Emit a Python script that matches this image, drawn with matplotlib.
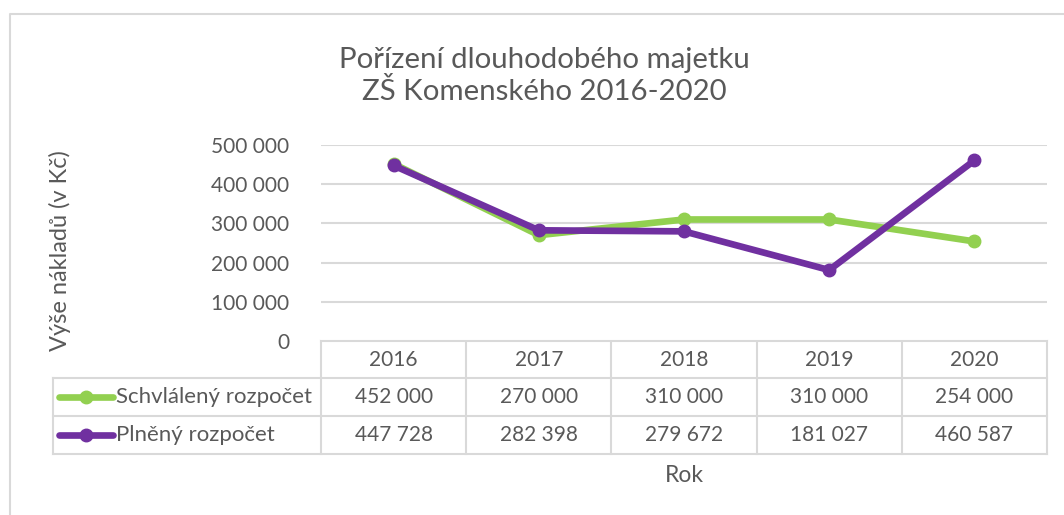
import matplotlib.pyplot as plt
from matplotlib.lines import Line2D
from matplotlib.ticker import FuncFormatter

years = ["2016", "2017", "2018", "2019", "2020"]
schvaleny = [452000, 270000, 310000, 310000, 254000]
plneny = [447728, 282398, 279672, 181027, 460587]
series_names = ["Schvlálený rozpočet", "Plněný rozpočet"]
series_colors = ["#92D050", "#7030A0"]

W, H = 1064, 515
TEXT = "#595959"
GRID = "#d9d9d9"
FONT = "Lato"

plt.rcParams["font.family"] = [FONT, "DejaVu Sans"]


def fmt(v):
    return f"{int(v):,}".replace(",", " ")


fig = plt.figure(figsize=(W / 100, H / 100), dpi=100)

# plot area in pixels
px_left, px_right = 321, 1047
px_top, px_bottom = 145, 341
ax = fig.add_axes([px_left / W, 1 - px_bottom / H,
                   (px_right - px_left) / W, (px_bottom - px_top) / H])

xs = list(range(len(years)))
for vals, col in zip([schvaleny, plneny], series_colors):
    ax.plot(xs, vals, color=col, linewidth=4.8, marker="o", markersize=9,
            solid_capstyle="round", zorder=3)

ax.set_xlim(-0.5, len(years) - 0.5)
ax.set_ylim(0, 500000)
ax.set_yticks(range(0, 500001, 100000))
ax.yaxis.set_major_formatter(FuncFormatter(lambda v, p: fmt(v)))
ax.set_xticks([])
ax.tick_params(axis="y", length=0, pad=23, labelsize=15, labelcolor=TEXT)
ax.grid(axis="y", color=GRID, linewidth=1.5)
ax.set_axisbelow(True)
for s in ax.spines.values():
    s.set_visible(False)

# overlay in pixel coords for table, labels and border
ov = fig.add_axes([0, 0, 1, 1], zorder=-1)
ov.set_xlim(0, W)
ov.set_ylim(H, 0)
ov.axis("off")
ov.patch.set_alpha(0)

# outer chart border
ov.plot([10, 10, W], [H, 14, 14], color=GRID, linewidth=1.5)

# data table
col_w = (px_right - px_left) / len(years)
edges = [px_left + i * col_w for i in range(len(years) + 1)]
leg_left = 53
row_y = [341, 378, 416, 454]
tl = dict(color=GRID, linewidth=1.5)
ov.plot([px_left, px_right], [row_y[0]] * 2, **tl)
for y in row_y[1:]:
    ov.plot([leg_left, px_right], [y, y], **tl)
for x in edges:
    ov.plot([x, x], [row_y[0], row_y[3]], **tl)
ov.plot([leg_left, leg_left], [row_y[1], row_y[3]], **tl)

for i, yr in enumerate(years):
    cx = (edges[i] + edges[i + 1]) / 2
    ov.text(cx, (row_y[0] + row_y[1]) / 2, yr, ha="center", va="center",
            fontsize=15, color=TEXT)
    for r, vals in enumerate([schvaleny, plneny]):
        ov.text(cx, (row_y[r + 1] + row_y[r + 2]) / 2, fmt(vals[i]),
                ha="center", va="center", fontsize=15, color=TEXT)

for r, (name, col) in enumerate(zip(series_names, series_colors)):
    cy = (row_y[r + 1] + row_y[r + 2]) / 2
    ov.add_line(Line2D([59, 113], [cy, cy], color=col, linewidth=4.8,
                       solid_capstyle="round"))
    ov.plot([86], [cy], marker="o", markersize=9, color=col)
    ov.text(116, cy, name, ha="left", va="center", fontsize=16, color=TEXT)

# titles and axis labels
ov.text(544, 76, "Pořízení dlouhodobého majetku\nZŠ Komenského 2016-2020",
        ha="center", va="center", fontsize=21.2, color=TEXT, linespacing=1.2)
ov.text(60, 251, "Výše nákladů (v Kč)", rotation=90, ha="center", va="center",
        fontsize=17, color=TEXT)
ov.text((px_left + px_right) / 2, 476, "Rok", ha="center", va="center",
        fontsize=16.5, color=TEXT)

fig.savefig("out.png", dpi=100, facecolor="white")
